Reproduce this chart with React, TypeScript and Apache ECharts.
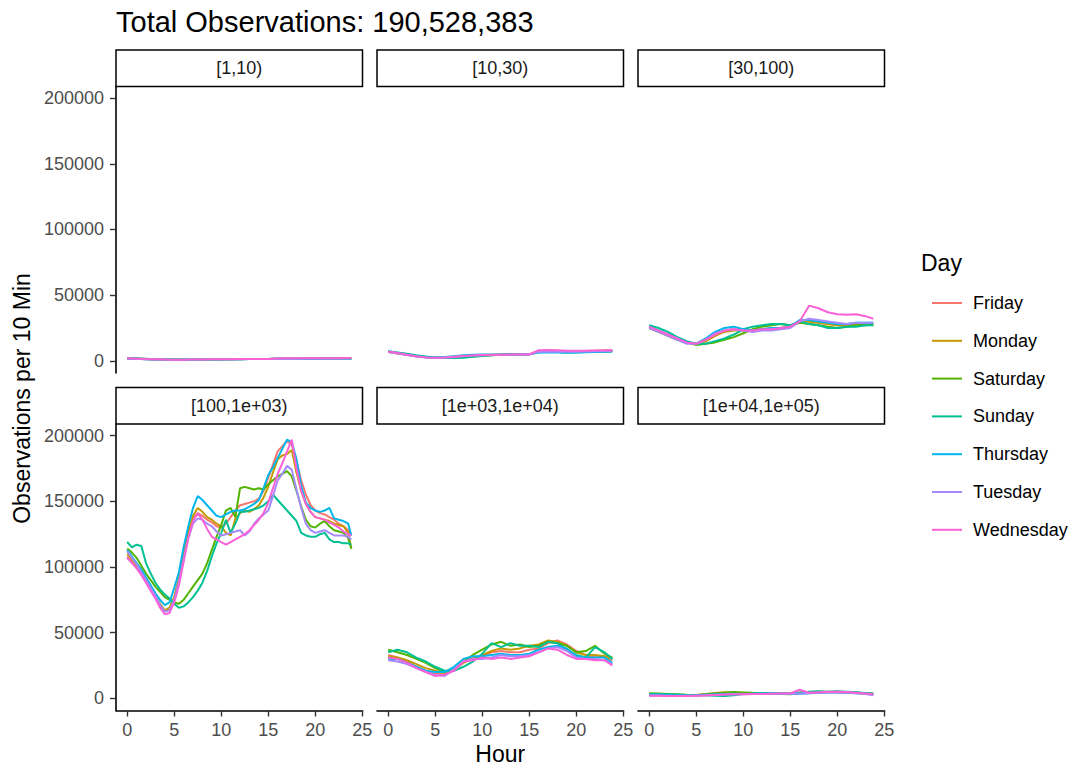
import React, { useEffect, useRef } from "react";
import * as echarts from "echarts";

// Days of week in factor order, with the default hue palette for 7 levels
const DAYS = ["Friday", "Monday", "Saturday", "Sunday", "Thursday", "Tuesday", "Wednesday"];
const DAY_COLORS = ["#F8766D", "#C49A00", "#53B400", "#00C094", "#00B6EB", "#A58AFF", "#FB61D7"];

const PANEL_LABELS = ["[1,10)", "[10,30)", "[30,100)", "[100,1e+03)", "[1e+03,1e+04)", "[1e+04,1e+05)"];
const TITLE = "Total Observations: 190,528,383";
const X_TITLE = "Hour";
const Y_TITLE = "Observations per 10 Min";
const LEGEND_TITLE = "Day";

const X_TICKS = [0, 5, 10, 15, 20, 25];
const Y_TICKS = [0, 50000, 100000, 150000, 200000];

// Sampling grids (hour of day)
const HOURS = [0, 1, 2, 3, 4, 5, 6, 7, 8, 9, 10, 11, 12, 13, 14, 15, 16, 17, 18, 19, 20, 21, 22, 23, 23.83];
const HALF_HOURS = [
  0, 0.5, 1, 1.5, 2, 2.5, 3, 3.5, 4, 4.5, 5, 5.5, 6, 6.5, 7, 7.5, 8, 8.5, 9, 9.5,
  10, 10.5, 11, 11.5, 12, 12.5, 13, 13.5, 14, 14.5, 15, 15.5, 16, 16.5, 17, 17.5, 18, 18.5, 19, 19.5,
  20, 20.5, 21, 21.5, 22, 22.5, 23, 23.5, 23.83,
];

// Observations per 10 min, in thousands; one row per day (DAYS order)
const BIN_1_10 = [
  [1.9, 1.6, 1.3, 1.1, 0.9, 0.8, 0.8, 0.9, 1.0, 1.1, 1.2, 1.2, 1.3, 1.3, 1.3, 1.4, 1.6, 1.7, 1.7, 1.7, 1.7, 1.8, 1.8, 1.9, 1.9],
  [1.8, 1.5, 1.2, 1.0, 0.9, 0.8, 0.8, 0.9, 1.0, 1.1, 1.1, 1.2, 1.2, 1.3, 1.3, 1.3, 1.5, 1.6, 1.6, 1.7, 1.7, 1.7, 1.8, 1.8, 1.8],
  [1.9, 1.7, 1.4, 1.2, 1.0, 0.9, 0.8, 0.8, 0.9, 1.0, 1.1, 1.2, 1.3, 1.3, 1.3, 1.3, 1.5, 1.6, 1.6, 1.6, 1.6, 1.7, 1.8, 1.9, 1.9],
  [2.0, 1.8, 1.5, 1.2, 1.0, 0.9, 0.8, 0.8, 0.8, 0.9, 1.0, 1.1, 1.2, 1.3, 1.3, 1.3, 1.5, 1.6, 1.6, 1.6, 1.6, 1.7, 1.7, 1.8, 1.8],
  [1.8, 1.5, 1.2, 1.0, 0.9, 0.8, 0.9, 1.0, 1.1, 1.1, 1.2, 1.2, 1.2, 1.3, 1.3, 1.3, 1.5, 1.5, 1.5, 1.6, 1.6, 1.7, 1.7, 1.8, 1.8],
  [1.8, 1.5, 1.2, 1.0, 0.9, 0.8, 0.8, 0.9, 1.0, 1.1, 1.2, 1.2, 1.2, 1.3, 1.3, 1.3, 1.6, 1.6, 1.6, 1.7, 1.7, 1.7, 1.8, 1.8, 1.9],
  [1.9, 1.6, 1.3, 1.1, 0.9, 0.8, 0.8, 0.9, 1.0, 1.1, 1.2, 1.2, 1.3, 1.3, 1.4, 1.4, 1.8, 1.9, 1.9, 1.9, 1.9, 2.0, 2.0, 2.1, 2.1],
];

const BIN_10_30 = [
  [7.0, 5.8, 4.6, 3.5, 2.7, 2.4, 2.6, 3.1, 3.7, 4.2, 4.5, 4.6, 4.7, 4.8, 4.9, 5.0, 7.3, 7.5, 7.3, 7.2, 7.2, 7.4, 7.6, 7.8, 7.9],
  [6.8, 5.6, 4.5, 3.4, 2.6, 2.3, 2.5, 3.0, 3.6, 4.1, 4.4, 4.5, 4.6, 4.7, 4.8, 4.9, 7.1, 7.3, 7.1, 7.0, 7.0, 7.2, 7.4, 7.6, 7.7],
  [6.6, 5.8, 4.8, 3.8, 2.9, 2.4, 2.2, 2.3, 2.7, 3.3, 3.9, 4.3, 4.6, 4.7, 4.8, 4.9, 6.5, 6.8, 6.7, 6.5, 6.5, 6.7, 6.9, 7.1, 7.3],
  [7.2, 6.3, 5.3, 4.2, 3.2, 2.5, 2.2, 2.1, 2.4, 3.0, 3.7, 4.2, 4.6, 4.8, 4.9, 4.9, 6.6, 6.9, 6.7, 6.5, 6.5, 6.7, 6.9, 7.1, 7.2],
  [7.0, 5.9, 4.7, 3.5, 2.7, 2.5, 2.8, 3.5, 4.2, 4.6, 4.7, 4.7, 4.7, 4.8, 4.9, 4.9, 6.3, 6.4, 6.3, 6.2, 6.3, 6.5, 6.7, 6.9, 7.1],
  [6.7, 5.6, 4.4, 3.3, 2.5, 2.2, 2.4, 2.9, 3.5, 4.0, 4.3, 4.4, 4.5, 4.6, 4.7, 4.8, 6.8, 7.0, 6.9, 6.8, 6.8, 7.0, 7.2, 7.3, 7.5],
  [7.1, 5.9, 4.6, 3.4, 2.6, 2.3, 2.5, 3.0, 3.6, 4.1, 4.4, 4.5, 4.6, 4.7, 4.8, 4.9, 8.1, 8.3, 8.0, 7.7, 7.6, 7.7, 7.9, 8.0, 8.1],
];

const BIN_30_100 = [
  [26, 23, 20, 17, 14, 13, 15, 19, 23, 24, 24, 23, 24, 25, 25, 26, 30, 30, 29, 28, 27, 27, 28, 28, 28],
  [25, 22, 19, 16, 14, 13, 15, 19, 22, 23, 23, 23, 24, 24, 25, 26, 30, 30, 29, 28, 27, 27, 28, 28, 27],
  [25, 22, 19, 16, 14, 12, 13, 14, 16, 18, 21, 24, 26, 27, 28, 27, 29, 28, 27, 26, 25, 26, 27, 27, 28],
  [27, 25, 22, 18, 15, 13, 13, 15, 17, 20, 24, 26, 27, 28, 28, 27, 30, 28, 27, 25, 25, 26, 26, 27, 27],
  [26, 23, 20, 17, 14, 13, 17, 22, 25, 26, 24, 23, 24, 25, 25, 26, 31, 31, 30, 29, 28, 28, 29, 29, 29],
  [25, 22, 19, 16, 13, 13, 16, 21, 23, 24, 23, 22, 23, 23, 24, 25, 30, 32, 31, 30, 29, 28, 29, 29, 29],
  [26, 23, 20, 17, 14, 13, 16, 20, 23, 24, 23, 23, 24, 24, 25, 26, 30, 42, 40, 37, 35.5, 35, 35.5, 34, 32],
];

// Half-hourly samples for the busiest bin
const BIN_100_1E3 = [
  [108, 104, 100, 95, 89, 83, 77, 71, 67, 68, 76, 90, 108, 125, 137, 141, 139, 136, 134, 131, 130, 133, 138, 143, 147, 148, 149, 150, 152, 158, 168, 178, 188, 192, 196, 193, 181, 166, 155, 147, 143, 141, 140, 138, 136, 133, 131, 128, 124],
  [110, 106, 101, 96, 90, 84, 78, 72, 67, 69, 77, 92, 110, 127, 139, 145, 142, 138, 136, 133, 131, 126, 124, 137, 141, 143, 142, 144, 147, 153, 161, 172, 182, 185, 186, 189, 172, 158, 148, 142, 138, 137, 136, 135, 133, 132, 131, 126, 114],
  [114, 111, 107, 101, 95, 90, 85, 81, 77, 75, 73, 72, 75, 80, 85, 90, 95, 103, 113, 123, 132, 143, 145, 138, 160, 161, 160, 159, 160, 159, 163, 166, 169, 171, 173, 169, 158, 146, 136, 131, 130, 133, 135, 131, 128, 127, 126, 122, 114],
  [119, 115, 117, 116, 103, 95, 88, 83, 79, 76, 72, 69, 70, 73, 77, 82, 88, 97, 108, 118, 126, 136, 126, 133, 142, 142, 143, 144, 145, 147, 150, 155, 151, 147, 143, 139, 135, 126, 124, 123, 123, 125, 126, 121, 119, 119, 118, 118, 117],
  [113, 108, 103, 98, 92, 86, 80, 75, 71, 73, 84, 96, 115, 131, 145, 154, 151, 147, 143, 139, 138, 140, 142, 143, 143, 144, 146, 148, 151, 160, 170, 176, 183, 190, 197, 195, 182, 162, 149, 145, 143, 142, 143, 145, 137, 136, 135, 133, 124],
  [112, 107, 102, 96, 90, 84, 78, 71, 66, 67, 75, 89, 106, 122, 133, 137, 136, 133, 131, 127, 124, 125, 126, 127, 128, 124, 127, 133, 137, 140, 143, 154, 166, 171, 177, 174, 159, 145, 133, 128, 126, 127, 128, 126, 124, 124, 124, 123, 121],
  [107, 103, 99, 94, 88, 82, 76, 69, 64, 65, 73, 86, 104, 122, 135, 141, 136, 129, 123, 121, 119, 117, 119, 121, 123, 125, 128, 132, 136, 141, 149, 160, 171, 179, 188, 197, 175, 158, 148, 142, 138, 137, 136, 134, 132, 130, 127, 125, 124],
];

const BIN_1E3_1E4 = [
  [33, 31, 28, 24, 21, 19, 18, 22, 28, 31, 32, 35, 36, 35, 35, 37, 38, 42, 44, 41, 36, 33, 31, 32, 29],
  [32, 31, 29, 26, 23, 21, 19, 22, 27, 30, 33, 36, 38, 37, 38, 40, 41, 44, 43, 40, 35, 33, 33, 32, 30],
  [37, 35, 33, 30, 27, 23, 20, 22, 28, 33, 37, 41, 43, 40, 41, 39, 40, 43, 42, 40, 35, 36, 40, 34, 31],
  [35, 37, 35, 31, 28, 24, 21, 21, 24, 28, 34, 42, 39, 42, 40, 40, 39, 43, 42, 37, 33, 31, 39, 35, 30],
  [30, 30, 27, 24, 21, 20, 20, 24, 30, 32, 32, 33, 34, 33, 33, 34, 37, 39, 40, 38, 32, 31, 31, 31, 27],
  [29, 28, 26, 23, 20, 18, 17, 22, 28, 30, 30, 31, 33, 32, 32, 33, 35, 38, 39, 36, 31, 30, 30, 29, 26],
  [31, 30, 27, 23, 20, 17, 18, 21, 28, 29, 31, 30, 31, 30, 31, 32, 35, 38, 37, 33, 30, 30, 29, 29, 25],
];

const BIN_1E4_1E5 = [
  [2.5, 2.3, 2.2, 2.0, 2.1, 2.3, 2.6, 3.0, 3.4, 3.3, 3.5, 3.6, 3.5, 3.7, 3.8, 4.0, 4.3, 4.6, 4.8, 5.0, 4.9, 4.6, 4.2, 3.8, 3.3],
  [3.0, 2.8, 2.6, 2.4, 2.3, 2.6, 3.2, 4.0, 4.6, 4.4, 4.0, 3.8, 3.7, 3.8, 3.9, 4.1, 4.4, 4.8, 5.0, 4.8, 4.6, 4.3, 4.0, 3.6, 3.2],
  [3.8, 3.6, 3.3, 3.0, 2.7, 2.6, 3.0, 3.6, 4.2, 4.8, 4.5, 4.2, 4.0, 3.8, 3.3, 3.0, 3.6, 4.2, 4.4, 4.6, 5.0, 4.6, 4.4, 3.8, 3.4],
  [3.3, 3.2, 3.0, 2.8, 2.6, 2.4, 2.3, 1.9, 1.8, 2.4, 3.2, 3.6, 3.9, 4.1, 3.7, 3.4, 4.2, 5.0, 5.3, 4.9, 5.4, 5.0, 4.6, 4.0, 3.6],
  [2.6, 2.5, 2.3, 2.2, 2.2, 2.4, 2.7, 3.0, 3.2, 3.4, 3.3, 3.4, 3.6, 3.6, 3.7, 3.6, 3.6, 3.9, 4.3, 4.6, 4.4, 4.2, 3.9, 3.6, 2.9],
  [2.2, 2.1, 2.0, 1.9, 1.9, 2.0, 2.3, 2.6, 2.9, 3.0, 3.1, 3.2, 3.3, 3.4, 3.4, 3.5, 3.5, 3.8, 4.2, 4.5, 4.4, 4.2, 3.8, 3.2, 2.4],
  [2.0, 1.9, 1.8, 1.7, 1.8, 2.0, 2.2, 2.5, 2.8, 3.0, 3.1, 3.3, 3.2, 3.4, 3.6, 3.7, 6.5, 4.2, 4.6, 4.8, 5.0, 4.7, 4.2, 3.6, 3.0],
];

const THOUSAND = 1000;

const PANELS = [
  { label: PANEL_LABELS[0], hours: HOURS, values: BIN_1_10 },
  { label: PANEL_LABELS[1], hours: HOURS, values: BIN_10_30 },
  { label: PANEL_LABELS[2], hours: HOURS, values: BIN_30_100 },
  { label: PANEL_LABELS[3], hours: HALF_HOURS, values: BIN_100_1E3 },
  { label: PANEL_LABELS[4], hours: HOURS, values: BIN_1E3_1E4 },
  { label: PANEL_LABELS[5], hours: HOURS, values: BIN_1E4_1E5 },
];

// Layout (px)
const FONT = "'Liberation Sans', Arial, Helvetica, sans-serif";
const COL_LEFT = [116, 377, 638];
const ROW_TOP = [86.5, 424];
const PANEL_W = 246.5;
const PANEL_H = 286.5;
const STRIP_H = 36.5;
const X_MIN = -1.19;
const X_MAX = 25.02;
const Y_MIN = -9300;
const Y_MAX = 208900;

function buildOption(): echarts.EChartsOption {
  const grids: any[] = [];
  const xAxes: any[] = [];
  const yAxes: any[] = [];
  const series: any[] = [];
  const graphics: any[] = [];

  PANELS.forEach((panel, p) => {
    const row = Math.floor(p / 3);
    const col = p % 3;
    const left = COL_LEFT[col];
    const top = ROW_TOP[row];
    const bottomRow = row === 1;
    const leftCol = col === 0;

    grids.push({ left, top, width: PANEL_W, height: PANEL_H, containLabel: false });

    xAxes.push({
      type: "value",
      gridIndex: p,
      min: X_MIN,
      max: X_MAX,
      axisLine: { show: bottomRow, onZero: false, lineStyle: { color: "#000", width: 1.6 } },
      axisTick: { show: bottomRow, length: 6, customValues: X_TICKS, lineStyle: { color: "#333333", width: 1.4 } },
      axisLabel: {
        show: bottomRow,
        customValues: X_TICKS,
        formatter: (v: number) => String(v),
        margin: 10,
        color: "#4d4d4d",
        fontSize: 18,
        fontFamily: FONT,
      },
      splitLine: { show: false },
    });

    yAxes.push({
      type: "value",
      gridIndex: p,
      min: Y_MIN,
      max: Y_MAX,
      axisLine: { show: leftCol, onZero: false, lineStyle: { color: "#000", width: 1.6 } },
      axisTick: { show: leftCol, length: 6, customValues: Y_TICKS, lineStyle: { color: "#333333", width: 1.4 } },
      axisLabel: {
        show: leftCol,
        customValues: Y_TICKS,
        formatter: (v: number) => String(v),
        margin: 12,
        color: "#4d4d4d",
        fontSize: 18,
        fontFamily: FONT,
      },
      splitLine: { show: false },
    });

    DAYS.forEach((day, d) => {
      series.push({
        type: "line",
        name: day,
        xAxisIndex: p,
        yAxisIndex: p,
        data: panel.hours.map((h, k) => [h, panel.values[d][k] * THOUSAND]),
        showSymbol: false,
        symbol: "none",
        silent: true,
        lineStyle: { width: 2, color: DAY_COLORS[d] },
        itemStyle: { color: DAY_COLORS[d] },
      });
    });

    // Facet strip
    graphics.push({
      type: "rect",
      shape: { x: left, y: top - STRIP_H, width: PANEL_W, height: STRIP_H },
      style: { fill: "#fff", stroke: "#000", lineWidth: 1.5 },
      silent: true,
    });
    graphics.push({
      type: "text",
      x: left + PANEL_W / 2,
      y: top - STRIP_H / 2,
      style: {
        text: panel.label,
        align: "center",
        verticalAlign: "middle",
        fill: "#1a1a1a",
        fontSize: 18,
        fontFamily: FONT,
      },
      silent: true,
    });
  });

  graphics.push(
    {
      type: "text",
      x: 116,
      y: 22,
      style: { text: TITLE, align: "left", verticalAlign: "middle", fill: "#000", fontSize: 29, fontFamily: FONT },
    },
    {
      type: "text",
      x: (COL_LEFT[0] + COL_LEFT[2] + PANEL_W) / 2,
      y: 754,
      style: { text: X_TITLE, align: "center", verticalAlign: "middle", fill: "#000", fontSize: 23, fontFamily: FONT },
    },
    {
      type: "text",
      x: 22,
      y: (ROW_TOP[0] + ROW_TOP[1] + PANEL_H) / 2,
      rotation: Math.PI / 2,
      style: { text: Y_TITLE, align: "center", verticalAlign: "middle", fill: "#000", fontSize: 23, fontFamily: FONT },
    },
    {
      type: "text",
      x: 921,
      y: 263,
      style: { text: LEGEND_TITLE, align: "left", verticalAlign: "middle", fill: "#000", fontSize: 23, fontFamily: FONT },
    }
  );

  return {
    animation: false,
    backgroundColor: "#ffffff",
    grid: grids,
    xAxis: xAxes,
    yAxis: yAxes,
    series,
    legend: {
      data: DAYS,
      orient: "vertical",
      left: 927,
      top: 288,
      icon: "rect",
      itemWidth: 30,
      itemHeight: 2,
      itemGap: 17.8,
      selectedMode: false,
      textStyle: { fontSize: 18, color: "#000", fontFamily: FONT, lineHeight: 20, padding: [0, 0, 0, 6] },
    },
    graphic: graphics,
  };
}

export default function App() {
  const ref = useRef<HTMLDivElement>(null);

  useEffect(() => {
    if (!ref.current) return;
    const chart = echarts.init(ref.current, null, { renderer: "svg" });
    chart.setOption(buildOption());
    return () => chart.dispose();
  }, []);

  return (
    <div
      ref={ref}
      style={{ position: "absolute", left: 0, top: 0, width: 1075, height: 771, background: "#fff" }}
    />
  );
}
